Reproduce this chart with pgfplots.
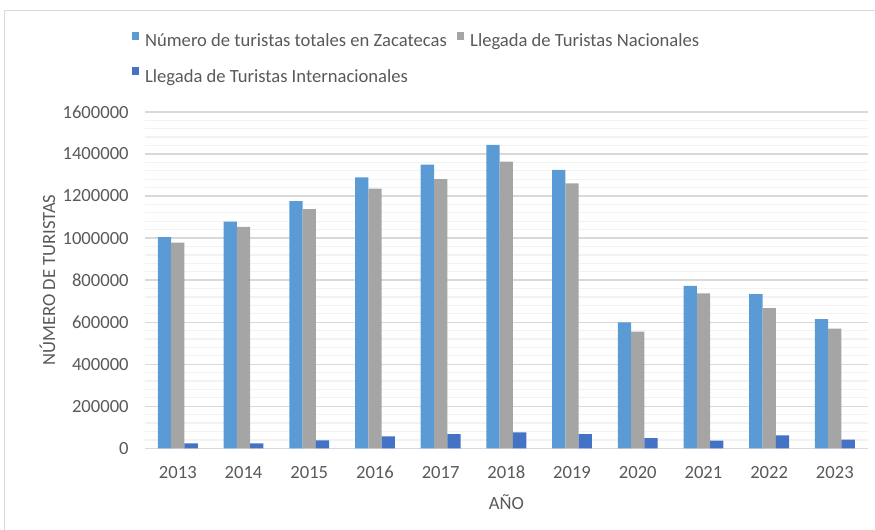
\documentclass[border=0pt]{standalone}
\usepackage{fontspec}
\setmainfont{Carlito}
\usepackage{pgfplots}
\pgfplotsset{compat=1.18}
\definecolor{serieA}{HTML}{5B9BD5}
\definecolor{serieB}{HTML}{A5A5A5}
\definecolor{serieC}{HTML}{4472C4}
\definecolor{texto}{HTML}{595959}
\definecolor{rejilla}{HTML}{D9D9D9}
\definecolor{rejillamenor}{HTML}{F2F2F2}

\begin{document}
\begin{tikzpicture}[font=\fontsize{9.3}{11}\selectfont]
\useasboundingbox (0pt,0pt) rectangle (437.5pt,-265pt);
\draw[rejilla, line width=0.6pt] (2.2pt,-265pt) -- (2.2pt,-5.2pt) -- (437.5pt,-5.2pt);
\begin{axis}[
  at={(72.5pt,-224.15pt)}, anchor=south west,
  scale only axis, width=361.35pt, height=168.2pt,
  xmin=-0.5, xmax=10.5, ymin=0, ymax=1600000,
  scaled y ticks=false,
  xtick={0,...,10},
  xticklabels={2013,2014,2015,2016,2017,2018,2019,2020,2021,2022,2023},
  ytick={0,200000,...,1600000},
  yticklabels={0,200000,400000,600000,800000,1000000,1200000,1400000,1600000},
  minor y tick num=4,
  ymajorgrids=true, yminorgrids=true,
  major grid style={rejilla, line width=0.65pt},
  minor grid style={rejillamenor, line width=0.65pt},
  axis line style={draw=none},
  major tick length=0pt, minor tick length=0pt,
  tick style={draw=none},
  yticklabel style={anchor=east, inner sep=0pt, xshift=-8pt, text=texto},
  xticklabel style={anchor=base, inner sep=0pt, yshift=-15pt, text=texto},
  xlabel={AÑO},
  xlabel style={at={(axis description cs:0.5,-0.1819)}, anchor=base, inner sep=0pt, text=texto},
  ylabel={NÚMERO DE TURISTAS},
  ylabel style={at={(axis description cs:-0.1245,0.5)}, anchor=base, inner sep=0pt, text=texto},
  legend columns=2,
  legend cell align=left,
  legend image code/.code={\fill[#1] (0pt,1.2pt) rectangle (3.7pt,5.1pt);},
  legend style={at={(axis description cs:-0.0184,1.2384)}, anchor=north west,
    draw=none, fill=none, inner sep=0pt, outer sep=0pt, row sep=7.95pt,
    nodes={inner sep=0pt, text height=7pt, text depth=2.2pt, text=texto},
    /tikz/every odd column/.append style={column sep=3pt},
    /tikz/every even column/.append style={column sep=5pt}},
]
\addplot[ybar, bar width=0.2024, bar shift=-0.2024, fill=serieA, draw=none] coordinates {
  (0,1004000) (1,1078000) (2,1176000) (3,1289000) (4,1349000) (5,1443000)
  (6,1324000) (7,599000) (8,772000) (9,733000) (10,614000)};
\addlegendentry{Número de turistas totales en Zacatecas}
\addplot[ybar, bar width=0.2024, bar shift=0, fill=serieB, draw=none] coordinates {
  (0,978000) (1,1053000) (2,1137000) (3,1235000) (4,1280000) (5,1363000)
  (6,1260000) (7,555000) (8,737000) (9,667000) (10,569000)};
\addlegendentry{Llegada de Turistas Nacionales}
\addplot[ybar, bar width=0.2024, bar shift=0.2024, fill=serieC, draw=none] coordinates {
  (0,24000) (1,24000) (2,38000) (3,57000) (4,67000) (5,76000)
  (6,67000) (7,48000) (8,36000) (9,62000) (10,41000)};
\addlegendentry{Llegada de Turistas Internacionales}
\end{axis}
\end{tikzpicture}
\end{document}
